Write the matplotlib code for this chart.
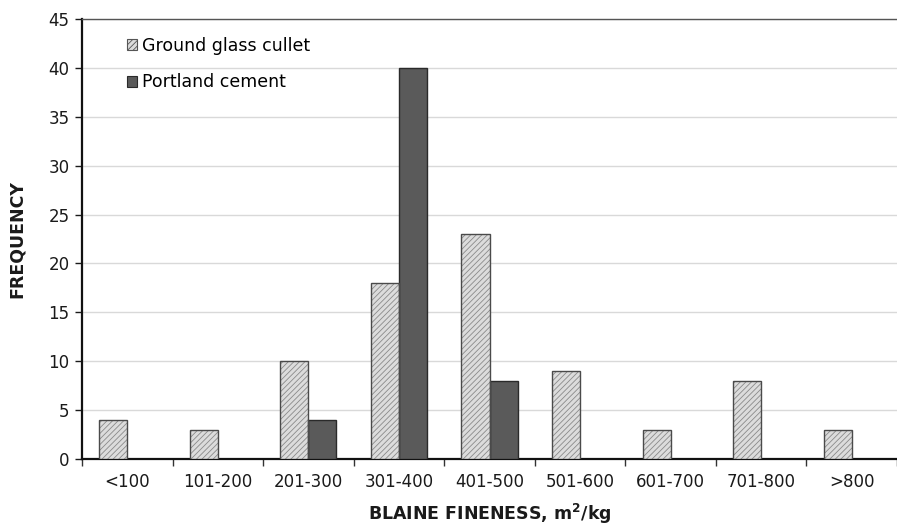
import matplotlib
matplotlib.use("Agg")
import matplotlib.pyplot as plt
import numpy as np
from matplotlib.patches import Patch

categories = ["<100", "101-200", "201-300", "301-400", "401-500", "501-600", "601-700", "701-800", ">800"]
glass = [4, 3, 10, 18, 23, 9, 3, 8, 3]
cement = [0, 0, 4, 40, 8, 0, 0, 0, 0]
yticks = [0, 5, 10, 15, 20, 25, 30, 35, 40, 45]

plt.rcParams['font.family'] = ['DejaVu Sans']
plt.rcParams['hatch.linewidth'] = 0.6

fig = plt.figure(figsize=(8.97, 5.29), dpi=100)
ax = fig.add_axes([82/897, 70/529, (897-82)/897, 440/529])

x = np.arange(len(categories))
w = 0.31
# glass bars: fill + hatch, then outline
ax.bar(x - w/2, glass, w, color="#dcdcdc", edgecolor="#8a8a8a", hatch="//////", linewidth=0, zorder=3)
ax.bar(x - w/2, glass, w, facecolor="none", edgecolor="#4a4a4a", linewidth=1.0, zorder=4)
cmask = np.array(cement) > 0
ax.bar(x[cmask] + w/2, np.array(cement)[cmask], w, color="#5a5a5a", edgecolor="#2a2a2a", linewidth=1.0, zorder=3)

ax.set_xlim(-0.5, len(categories) - 0.5)
ax.set_ylim(0, 45)
ax.set_yticks(yticks)
ax.set_xticks(x)
ax.set_xticklabels(categories)
ax.set_xticks(np.arange(-0.5, len(categories)), minor=True)
ax.tick_params(axis='x', which='major', length=0, labelsize=12, pad=10, colors='#1a1a1a')
ax.tick_params(axis='x', which='minor', length=5, width=1, color='#333333', direction='out')
ax.tick_params(axis='y', length=5, width=1, labelsize=12, colors='#1a1a1a', pad=4)

ax.yaxis.grid(True, color="#d9d9d9", linewidth=1, zorder=0)
ax.set_axisbelow(True)
ax.spines["right"].set_visible(False)
ax.spines["top"].set_color("#555555")
ax.spines["top"].set_linewidth(1.0)
ax.spines["left"].set_linewidth(1.6)
ax.spines["left"].set_color("#111111")
ax.spines["bottom"].set_linewidth(1.6)
ax.spines["bottom"].set_color("#111111")

ax.set_ylabel("FREQUENCY", fontsize=12.5, fontweight='bold', color='#1a1a1a', labelpad=16)
ax.set_xlabel("BLAINE FINENESS, m$^\\mathbf{2}$/kg", fontsize=12.5, fontweight='bold', color='#1a1a1a', labelpad=8)

handles = [Patch(facecolor="#dcdcdc", edgecolor="#555555", hatch="//////", linewidth=0.8),
           Patch(facecolor="#5a5a5a", edgecolor="#2a2a2a", linewidth=0.8)]
leg = ax.legend(handles, ["Ground glass cullet", "Portland cement"], loc='upper left',
                bbox_to_anchor=(127/897, 1 - 37/529), bbox_transform=fig.transFigure,
                frameon=False, fontsize=12.5, handlelength=0.6, handleheight=0.6,
                handletextpad=0.25, labelspacing=1.05, borderaxespad=0, borderpad=0)

fig.savefig("out.png", dpi=100)
